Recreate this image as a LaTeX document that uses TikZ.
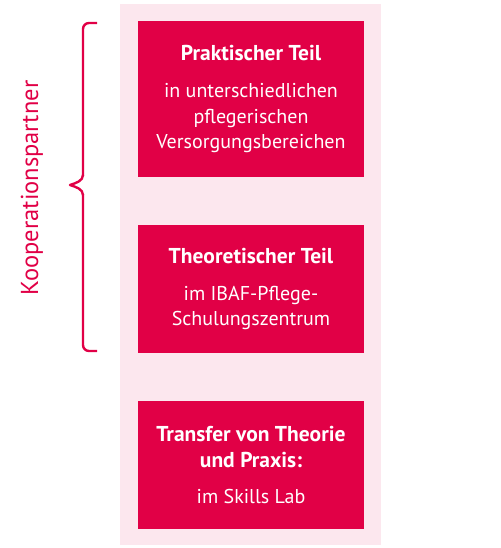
\documentclass[tikz,border=0pt]{standalone}
\usepackage{fontspec}
\setmainfont{PT Sans}
\definecolor{crim}{HTML}{E10046}
\definecolor{pinkbg}{HTML}{FCE7EE}
\newcommand{\ttl}[1]{{\fontsize{21.5}{25}\selectfont\bfseries #1}}
\begin{document}
\begin{tikzpicture}[x=1pt,y=-1pt,
  box/.style={fill=crim, text=white, minimum width=226pt, align=center, inner sep=0pt, font=\fontsize{20}{25.5}\selectfont},
  brace/.style={draw=crim, line width=2.4pt, line join=round}]
\useasboundingbox (0,0) rectangle (500,548);
\fill[pinkbg] (120,4) rectangle (381,545);
\node[box, minimum height=156pt] (b1) at (251,99) {\ttl{Praktischer Teil}\\[12pt]in unterschiedlichen\\pflegerischen\\Versorgungsbereichen};
\node[box, minimum height=128pt] (b2) at (251,289) {\ttl{Theoretischer Teil}\\[11pt]im IBAF-Pflege-\\Schulungszentrum};
\node[box, minimum height=128pt] (b3) at (251,465) {\ttl{Transfer von Theorie}\\\ttl{und Praxis:}\\[11pt]im Skills Lab};
\coordinate (bt) at (97,23);
\coordinate (bb) at (97,351);
\coordinate (tip) at (70,185);
\draw[brace, rounded corners=6pt] (bt) -- (83,23) -- (83,176);
\draw[brace] (83,175) .. controls (83,181) and (76,183) .. (tip) .. controls (76,187) and (83,189) .. (83,195);
\draw[brace, rounded corners=6pt] (83,194) -- (83,351) -- (bb);
\node[rotate=90, text=crim, font=\fontsize{24.5}{28}\selectfont] (lab) at (32,188) {Kooperationspartner};
\end{tikzpicture}
\end{document}
